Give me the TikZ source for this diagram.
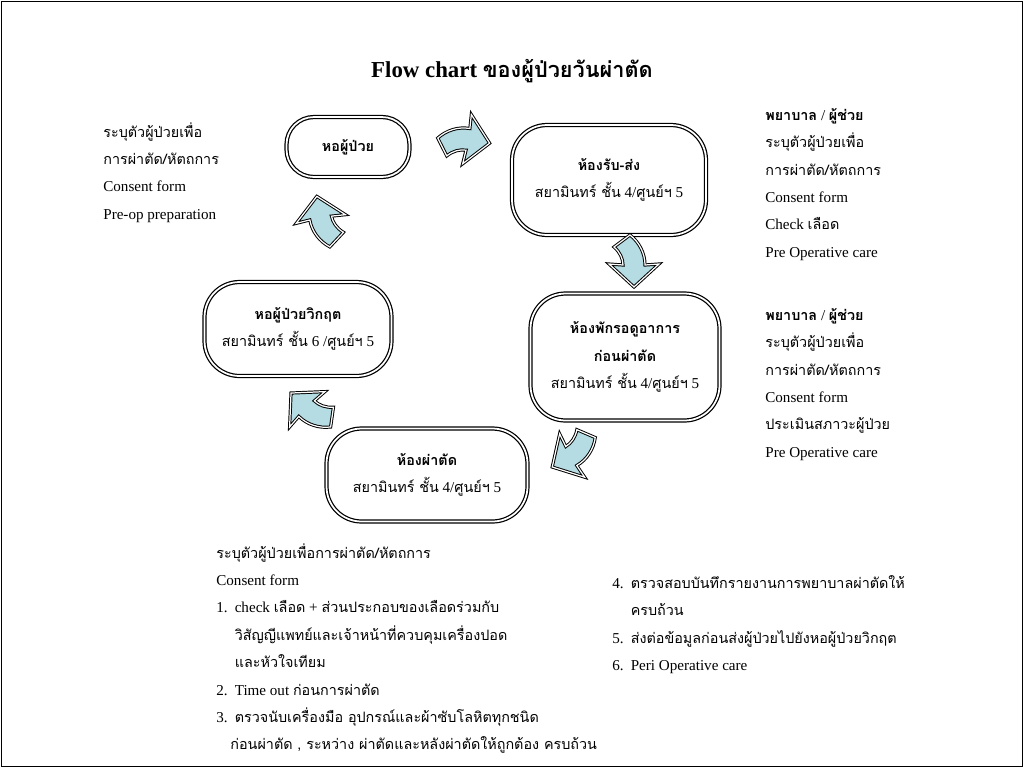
\documentclass[tikz,border=0pt]{standalone}
\usepackage{fontspec}
\setmainfont{Liberation Serif}
\newfontfamily\thaifont[Script=Thai,Scale=0.95]{Loma}
\newcommand{\tht}[1]{{\thaifont #1}}
\usetikzlibrary{positioning}
\definecolor{arrowfill}{RGB}{180,220,226}

\tikzset{
  bentarrow/.pic={
    \draw[arrowline] (24,0) -- (1,-25) -- (2,-11)
      .. controls (-10,-11) and (-21,-5) .. (-28,4) -- (-16,20)
      .. controls (-11,14) and (-4,11) .. (2,11) -- (1,25) -- cycle;
  }
}

\begin{document}
\begin{tikzpicture}[
  x=0.02cm, y=-0.02cm,
  station/.style={
    draw=black, line width=0.7pt, double=white, double distance=1pt,
    rounded corners=0.7cm, align=center, inner sep=2pt,
    font=\fontsize{8.6}{15.6}\selectfont
  },
  note/.style={
    anchor=north west, align=left, inner sep=0pt,
    font=\fontsize{8.6}{15.6}\selectfont
  },
  arrowline/.style={
    fill=arrowfill, draw=black, line width=0.55pt,
    double=white, double distance=0.7pt, line join=miter
  }
]
\useasboundingbox (0,0) rectangle (1024,768);
\draw[line width=0.6pt] (1.5,1.5) rectangle (1022.5,766.5);

% title
\node (title) at (512,71)
  {\fontsize{13}{15}\selectfont\bfseries Flow chart \tht{ของผู้ป่วยวันผ่าตัด}};

% stations
\node[station,rounded corners=0.55cm,minimum width=2.46cm,minimum height=1.2cm] (hop) at (348,147)
  {\textbf{\tht{หอผู้ป่วย}}};
\node[station,minimum width=3.88cm,minimum height=2.2cm] (recv) at (609,180)
  {\textbf{\tht{ห้องรับ-ส่ง}}\\ \tht{สยามินทร์ ชั้น} 4/\tht{ศูนย์ฯ} 5};
\node[station,minimum width=3.78cm,minimum height=2.54cm] (wait) at (625,357)
  {\textbf{\tht{ห้องพักรอดูอาการ}}\\ \textbf{\tht{ก่อนผ่าตัด}}\\ \tht{สยามินทร์ ชั้น} 4/\tht{ศูนย์ฯ} 5};
\node[station,minimum width=4.02cm,minimum height=1.86cm] (oper) at (427,475)
  {\textbf{\tht{ห้องผ่าตัด}}\\ \tht{สยามินทร์ ชั้น} 4/\tht{ศูนย์ฯ} 5};
\node[station,minimum width=3.74cm,minimum height=1.88cm] (icu) at (298,329)
  {\textbf{\tht{หอผู้ป่วยวิกฤต}}\\ \tht{สยามินทร์ ชั้น} 6 /\tht{ศูนย์ฯ} 5};

% block arrows
\pic[rotate=-10] (a1) at (466,139) {bentarrow};
\pic[rotate=-90] (a2) at (634,263) {bentarrow};
\pic[rotate=210] (a3) at (573,455) {bentarrow};
\pic[rotate=135] (a4) at (308,410) {bentarrow};
\pic[rotate=100] (a5) at (321,220) {bentarrow};

% notes
\node[note] (lnote) at (103,122)
  {\tht{ระบุตัวผู้ป่วยเพื่อ}\\ \tht{การผ่าตัด/หัตถการ}\\ Consent form\\ Pre-op preparation};
\node[note] (rnote1) at (765,108)
  {\textbf{\tht{พยาบาล}} / \textbf{\tht{ผู้ช่วย}}\\ \tht{ระบุตัวผู้ป่วยเพื่อ}\\ \tht{การผ่าตัด/หัตถการ}\\
   Consent form\\ Check \tht{เลือด}\\ Pre Operative care};
\node[note] (rnote2) at (765,308)
  {\textbf{\tht{พยาบาล}} / \textbf{\tht{ผู้ช่วย}}\\ \tht{ระบุตัวผู้ป่วยเพื่อ}\\ \tht{การผ่าตัด/หัตถการ}\\
   Consent form\\ \tht{ประเมินสภาวะผู้ป่วย}\\ Pre Operative care};
\node[note] (bnote1) at (216,543)
  {\tht{ระบุตัวผู้ป่วยเพื่อการผ่าตัด/หัตถการ}\\ Consent form\\
   \makebox[10.5pt][l]{1.}check \tht{เลือด} + \tht{ส่วนประกอบของเลือดร่วมกับ}\\
   \hspace*{10.5pt}\tht{วิสัญญีแพทย์และเจ้าหน้าที่ควบคุมเครื่องปอด}\\
   \hspace*{10.5pt}\tht{และหัวใจเทียม}\\
   \makebox[10.5pt][l]{2.}Time out \tht{ก่อนการผ่าตัด}\\
   \makebox[10.5pt][l]{3.}\tht{ตรวจนับเครื่องมือ อุปกรณ์และผ้าซับโลหิตทุกชนิด}\\
   \hspace*{8pt}\tht{ก่อนผ่าตัด , ระหว่าง ผ่าตัดและหลังผ่าตัดให้ถูกต้อง ครบถ้วน}};
\node[note] (bnote2) at (612,575)
  {\makebox[10.5pt][l]{4.}\tht{ตรวจสอบบันทึกรายงานการพยาบาลผ่าตัดให้}\\
   \hspace*{10.5pt}\tht{ครบถ้วน}\\
   \makebox[10.5pt][l]{5.}\tht{ส่งต่อข้อมูลก่อนส่งผู้ป่วยไปยังหอผู้ป่วยวิกฤต}\\
   \makebox[10.5pt][l]{6.}Peri Operative care};
\end{tikzpicture}
\end{document}
